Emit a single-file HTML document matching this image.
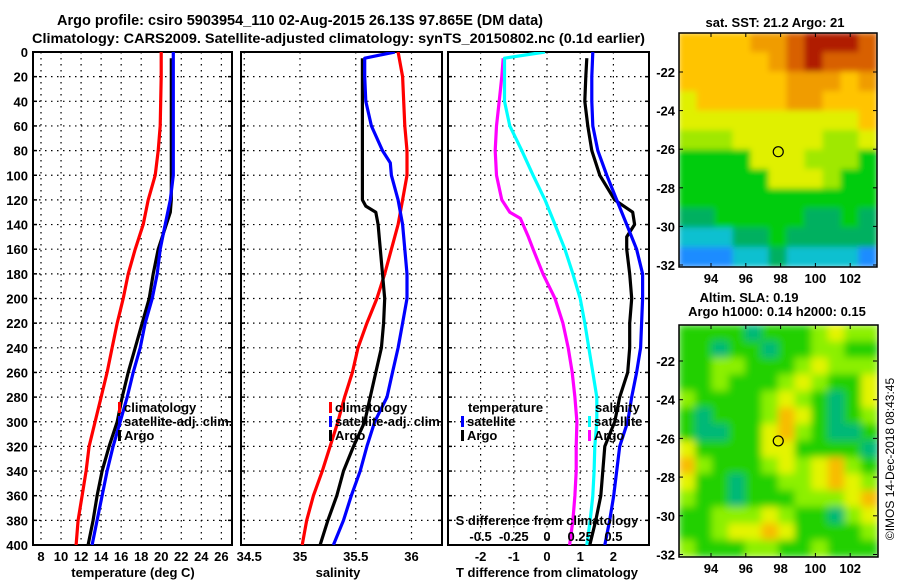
<!DOCTYPE html>
<html><head><meta charset="utf-8">
<style>
html,body{margin:0;padding:0;background:#fff;}
svg{display:block;}
text{font-family:"Liberation Sans",sans-serif;font-weight:bold;fill:#000;}
</style></head>
<body>
<svg id="chart" width="900" height="580" viewBox="0 0 900 580" xmlns="http://www.w3.org/2000/svg">
<defs>
<clipPath id="c1"><rect x="33" y="52" width="199" height="493"/></clipPath>
<clipPath id="c2"><rect x="241" y="52" width="201" height="493"/></clipPath>
<clipPath id="c3"><rect x="448" y="52" width="201" height="493"/></clipPath>
<clipPath id="cm1"><rect x="679" y="33" width="198" height="234"/></clipPath>
<clipPath id="cm2"><rect x="679" y="325" width="199" height="232"/></clipPath>
<filter id="blur1" x="-5%" y="-5%" width="110%" height="110%"><feGaussianBlur stdDeviation="3"/></filter>
<filter id="blur2" x="-5%" y="-5%" width="110%" height="110%"><feGaussianBlur stdDeviation="4"/></filter>
</defs>
<text x="300" y="25" font-size="14.5" text-anchor="middle">Argo profile: csiro 5903954_110 02-Aug-2015 26.13S 97.865E (DM data)</text>
<text x="32" y="43" font-size="14" textLength="613" lengthAdjust="spacingAndGlyphs">Climatology: CARS2009. Satellite-adjusted climatology: synTS_20150802.nc (0.1d earlier)</text>
<g id="g"></g>
</svg>
<script>
// ---- profile data (depth in m) ----
const depths = [0,20,40,60,80,100,120,140,160,180,200,220,240,260,280,300,320,340,360,380,400];
const tempClim = [20.0,20.0,19.95,19.9,19.7,19.4,18.7,18.2,17.4,16.7,16.2,15.6,15.1,14.6,14.0,13.4,12.8,12.5,12.1,11.7,11.5];
const tempSat = [21.2,21.2,21.2,21.2,21.2,21.2,20.9,20.4,19.9,19.6,19.1,18.4,17.9,17.2,16.6,15.9,15.2,14.6,14.1,13.6,13.1];
const argoDepths = [5,20,40,60,80,100,120,130,140,160,180,200,220,240,260,280,300,320,340,360,380,400];
const tempArgo = [21.0,21.0,21.0,21.0,21.0,21.0,21.0,20.9,20.5,19.7,19.2,18.8,18.1,17.4,16.7,16.1,15.6,14.8,14.1,13.6,13.2,12.7];
const salClim = [35.88,35.92,35.93,35.94,35.96,35.96,35.92,35.88,35.82,35.76,35.69,35.60,35.52,35.47,35.40,35.34,35.27,35.20,35.12,35.06,35.02];
const satDepths = [0,5,20,40,60,80,90,100,120,140,160,180,200,220,240,260,280,300,320,340,360,380,400];
const salSat = [35.85,35.58,35.58,35.59,35.64,35.74,35.81,35.82,35.88,35.92,35.94,35.96,35.96,35.92,35.88,35.83,35.78,35.67,35.60,35.54,35.46,35.39,35.30];
const salArgoDepths = [5,20,40,60,80,100,120,125,130,140,160,180,200,220,240,260,280,300,320,340,360,380,400];
const salArgo = [35.56,35.56,35.56,35.56,35.56,35.56,35.56,35.59,35.68,35.70,35.72,35.74,35.76,35.75,35.73,35.68,35.63,35.58,35.48,35.39,35.33,35.25,35.18];
const tdSat = [1.38,1.35,1.35,1.38,1.53,1.80,2.10,2.40,2.70,2.88,2.88,2.85,2.82,2.70,2.55,2.43,2.19,2.10,2.01,1.89,1.74];
const tdArgoDepths = [5,20,40,60,80,100,120,130,140,150,160,180,200,220,240,260,280,300,320,340,360,380,400];
const tdArgo = [1.20,1.17,1.14,1.23,1.35,1.59,2.04,2.58,2.64,2.40,2.40,2.49,2.55,2.49,2.49,2.43,2.19,2.04,1.74,1.68,1.62,1.47,1.29];
const sdSatDepths = [0,5,20,40,60,80,100,120,140,160,180,200,220,240,260,280,300,320,340,360,380,400];
const sdSat = [-0.015,-0.32,-0.32,-0.32,-0.28,-0.19,-0.105,-0.015,0.06,0.135,0.195,0.25,0.285,0.315,0.345,0.375,0.375,0.36,0.355,0.345,0.325,0.30];
const sdArgoDepths = [5,20,40,60,80,100,120,130,135,150,160,180,200,220,240,260,280,300,320,340,360,380,400];
const sdArgo = [-0.33,-0.34,-0.36,-0.38,-0.39,-0.38,-0.34,-0.28,-0.20,-0.14,-0.105,-0.03,0.06,0.12,0.16,0.19,0.21,0.225,0.22,0.22,0.21,0.195,0.17];
const depthTicks = [0,20,40,60,80,100,120,140,160,180,200,220,240,260,280,300,320,340,360,380,400];
const tempTicks = [8,10,12,14,16,18,20,22,24,26];
const salTicks = [34.5,35,35.5,36];
const salTickLabels = ["34.5","35","35.5","36"];
const tdTicks = [-2,-1,0,1,2];
const sdTicks = [-0.5,-0.25,0,0.25,0.5];
const sdTickLabels = ["-0.5","-0.25","0","0.25","0.5"];
// ---- maps ----
const lonTicks = [94,96,98,100,102];
const latTicks = [-22,-24,-26,-28,-30,-32];
const sstGrid = [
[6,6,6,6,7,7,8,9,9,9,8],
[6,6,6,6,6,7,8,9,8,8,8],
[6,6,6,6,6,6,7,7,7,6,7],
[5,6,6,6,6,6,7,7,6,6,6],
[5,5,5,5,5,5,5,5,5,5,6],
[4,4,4,5,5,5,5,5,4,4,5],
[3,3,3,3,5,5,5,4,4,4,3],
[3,3,3,3,3,5,5,5,4,3,3],
[3,3,3,3,3,3,3,3,3,3,3],
[2,2,3,3,3,3,3,2,2,3,2],
[1,1,1,2,2,3,2,2,2,2,2],
[0,0,0,1,1,2,1,1,1,1,0]];
const slaGrid = [
[1,1,1,1,0,1,1,1,2,3,2,2],
[1,1,0,1,1,0,1,1,2,2,1,1],
[1,1,2,2,1,1,1,2,3,2,2,2],
[1,1,2,1,1,1,2,3,2,1,1,3],
[2,1,1,1,1,2,3,2,1,0,1,3],
[1,0,1,1,1,2,4,3,1,0,1,2],
[1,0,0,1,1,3,4,2,1,0,0,1],
[3,1,1,1,1,3,3,1,1,1,1,0],
[4,2,1,1,1,2,3,2,3,4,2,1],
[3,1,1,0,1,1,2,2,3,4,3,2],
[2,1,1,0,1,1,1,2,2,2,3,4],
[1,1,2,2,2,3,2,1,1,0,2,3],
[1,1,2,3,3,4,3,1,1,1,1,2],
[2,1,1,1,2,2,1,1,2,1,1,1]];
const argoLon = 97.865, argoLat = -26.13;

const sstColors = ["#1e8cff","#10c0d0","#00b060","#00cc10","#a0e800","#e0f000","#ffc400","#f09c00","#d86000","#b01c00"];
const slaColors = ["#00b878","#22d000","#8cf000","#e4f400","#f8bc00"];

const NS="http://www.w3.org/2000/svg";
const G=document.getElementById('g');
function el(tag,attrs,parent){const e=document.createElementNS(NS,tag);for(const k in attrs)e.setAttribute(k,attrs[k]);(parent||G).appendChild(e);return e;}
function txt(s,x,y,size,anchor,parent){const t=el('text',{x:x,y:y,'font-size':size,'text-anchor':anchor||'middle'},parent);t.textContent=s;return t;}

const yD=d=>52+d*1.2325;
const xT=t=>41+(t-8)*10.02;
const xS=s=>300+(s-35)*111.5;
const xTd=t=>547+t*33.2;
const xSd=s=>547+s*132.8;

const panels=[{x0:33,x1:232,clip:'c1',name:'temperature-panel'},{x0:241,x1:442,clip:'c2',name:'salinity-panel'},{x0:448,x1:649,clip:'c3',name:'difference-panel'}];
const vgrid=[tempTicks.map(xT),salTicks.map(xS),tdTicks.map(xTd)];

panels.forEach((p,i)=>{
  const g=el('g',{});
  
  
  depthTicks.forEach(d=>{
    if(d>0&&d<400){const l=el('line',{x1:p.x0,x2:p.x1,y1:yD(d),y2:yD(d),stroke:'#000','stroke-width':1.2,'stroke-dasharray':'1.5,4.5'},g);
    
    }
    el('line',{x1:p.x0,x2:p.x0+4,y1:yD(d),y2:yD(d),stroke:'#000','stroke-width':1.5},g);
    el('line',{x1:p.x1-4,x2:p.x1,y1:yD(d),y2:yD(d),stroke:'#000','stroke-width':1.5},g);
  });
  vgrid[i].forEach(x=>{
    if(x>p.x0+2&&x<p.x1-2){const l=el('line',{x1:x,x2:x,y1:52,y2:545,stroke:'#000','stroke-width':1.2,'stroke-dasharray':'1.5,4.5'},g);
    
    }
  });
  const r=el('rect',{x:p.x0,y:52,width:p.x1-p.x0,height:493,fill:'none',stroke:'#000','stroke-width':2},g);
  
  
});

depthTicks.forEach(d=>{const t=txt(String(d),28,yD(d)+5,13,'end');

});

function line(xs,ds,fx,color,clip,name){
  const pts=xs.map((v,i)=>fx(v).toFixed(1)+','+yD(ds[i]).toFixed(1)).join(' ');
  const pl=el('polyline',{points:pts,fill:'none',stroke:color,'stroke-width':3.2,'clip-path':'url(#'+clip+')','stroke-linejoin':'round'});
  
  
}
line(tempClim,depths,xT,'#ff0000','c1','temp-climatology-line');
line(tempArgo,argoDepths,xT,'#000','c1','temp-argo-line');
line(tempSat,depths,xT,'#0000ff','c1','temp-satellite-line');
line(salClim,depths,xS,'#ff0000','c2','sal-climatology-line');
line(salArgo,salArgoDepths,xS,'#000','c2','sal-argo-line');
line(salSat,satDepths,xS,'#0000ff','c2','sal-satellite-line');
line(sdArgo,sdArgoDepths,xSd,'#ff00ff','c3','sdiff-argo-line');
line(sdSat,sdSatDepths,xSd,'#00ffff','c3','sdiff-satellite-line');
line(tdArgo,tdArgoDepths,xTd,'#000','c3','tdiff-argo-line');
line(tdSat,depths,xTd,'#0000ff','c3','tdiff-satellite-line');

tempTicks.forEach(t=>{const e=txt(String(t),xT(t),561,13);

});
salTicks.forEach((s,i)=>{const e=txt(salTickLabels[i],xS(s)+ (i==0?5:0),561,13);

});
tdTicks.forEach(t=>{const e=txt(String(t),xTd(t),561,13);

});
sdTicks.forEach((s,i)=>{const e=txt(sdTickLabels[i],xSd(s),541,13);

});
let e;
e=txt('temperature (deg C)',133,577,13);


e=txt('salinity',338,577,13);


e=txt('T difference from climatology',547,577,13);


e=txt('S difference from climatology',547,525,13);



function legend(x,y,color,label,name){
  const g=el('g',{});
  
  
  el('rect',{x:x,y:y-10,width:3,height:11,fill:color},g);
  txt(label,x+6,y,13,'start',g);
}
legend(118,412,'#ff0000','climatology','legend-climatology');
legend(118,426,'#0000ff','satellite-adj. clim.','legend-satellite-adj');
legend(118,440,'#000','Argo','legend-argo');
legend(329,412,'#ff0000','climatology','legend2-climatology');
legend(329,426,'#0000ff','satellite-adj. clim.','legend2-satellite-adj');
legend(329,440,'#000','Argo','legend2-argo');
e=txt('temperature',468,412,13,'start');


legend(461,426,'#0000ff','satellite','legend-tdiff-satellite');
legend(461,440,'#000','Argo','legend-tdiff-argo');
e=txt('salinity',595,412,13,'start');


legend(588,426,'#00ffff','satellite','legend-sdiff-satellite');
legend(588,440,'#ff00ff','Argo','legend-sdiff-argo');

function drawMap(grid,colors,x0,y0,w,h,clip,filter,name){
  const outer=el('g',{'clip-path':'url(#'+clip+')'});
  
  
  const g=el('g',{filter:'url(#'+filter+')'},outer);
  const rows=grid.length, cols=grid[0].length;
  const cw=w/cols, ch=h/rows;
  grid.forEach((row,r)=>row.forEach((v,c)=>{
    const rc=el('rect',{x:(x0+c*cw-0.5).toFixed(1),y:(y0+r*ch-0.5).toFixed(1),width:(cw+1).toFixed(1),height:(ch+1).toFixed(1),fill:colors[v]},g);
    
    
  }));
  el('rect',{x:x0,y:y0,width:w,height:h,fill:'none',stroke:'#000','stroke-width':1.5});
}
const mxLon=l=>711+(l-94)*17.4;
const myTop=l=>72+(-22-l)*19.3;
const myBot=l=>361+(-22-l)*19.35;
drawMap(sstGrid,sstColors,679,33,198,234,'cm1','blur1','sst-map');
drawMap(slaGrid,slaColors,679,325,199,232,'cm2','blur2','sla-map');
[[myTop,283,33,267],[myBot,573,325,557]].forEach(([fy,ly,top,bot])=>{
  latTicks.forEach(l=>{
    const t=txt(String(l),675,fy(l)+5,13,'end');
    
    
    el('line',{x1:679,x2:683,y1:fy(l),y2:fy(l),stroke:'#000'});
    el('line',{x1:873,x2:877,y1:fy(l),y2:fy(l),stroke:'#000'});
  });
  lonTicks.forEach(l=>{
    const t=txt(String(l),mxLon(l),ly,13);
    
    
    el('line',{x1:mxLon(l),x2:mxLon(l),y1:bot-4,y2:bot,stroke:'#000'});
    el('line',{x1:mxLon(l),x2:mxLon(l),y1:top,y2:top+4,stroke:'#000'});
  });
  const c=el('circle',{cx:mxLon(argoLon),cy:fy(argoLat),r:5,fill:'none',stroke:'#000','stroke-width':1.2});
  
  
});
e=txt('sat. SST: 21.2 Argo: 21',775,27,13);


e=txt('Altim. SLA: 0.19',749,302,13);


e=txt('Argo h1000: 0.14 h2000: 0.15',777,316,13);


const cr=el('text',{x:0,y:0,'font-size':12,'text-anchor':'middle',transform:'translate(894,459) rotate(-90)',style:'font-weight:normal'});
cr.textContent='©IMOS 14-Dec-2018 08:43:45';


</script>
</body></html>
